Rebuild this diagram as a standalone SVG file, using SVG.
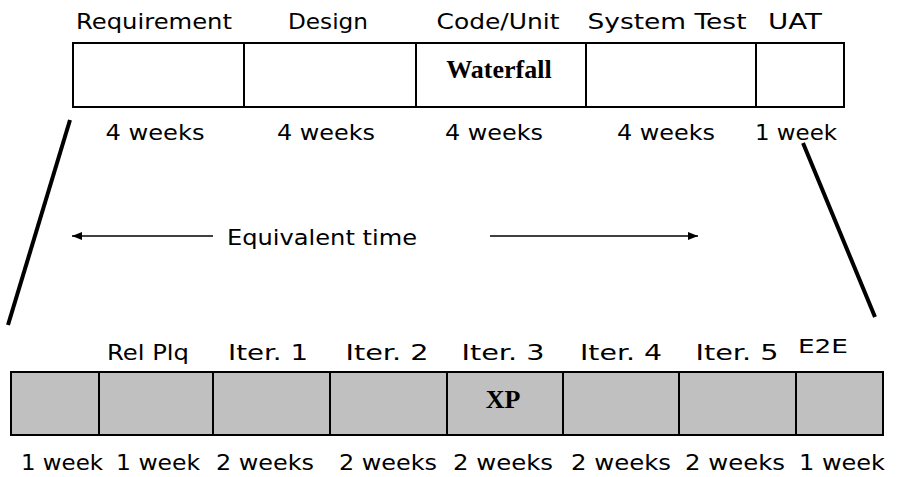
<svg xmlns="http://www.w3.org/2000/svg" width="897" height="477" viewBox="0 0 897 477">
  <defs>
    <marker id="head" viewBox="0 0 10 8" refX="10" refY="4" markerWidth="10" markerHeight="8" markerUnits="userSpaceOnUse" orient="auto">
      <path d="M0,0 L10,4 L0,8 Z" fill="#000"/>
    </marker>
    <style>
      .cell { fill: #fff; stroke: #000; stroke-width: 2; }
      .gcell { fill: #c0c0c0; stroke: #000; stroke-width: 2; }
      .lbl { font-family: "DejaVu Sans", "Liberation Sans", sans-serif; font-size: 22px; fill: #000; text-anchor: middle; }
      .small { font-size: 19px; }
      .bold { font-family: "Liberation Serif", "DejaVu Serif", serif; font-weight: bold; font-size: 26px; fill: #000; text-anchor: middle; }
      .zoom { stroke: #000; stroke-width: 4; fill: none; }
      .arrow { stroke: #000; stroke-width: 1.5; fill: none; marker-end: url(#head); }
    </style>
  </defs>
  <rect width="897" height="477" fill="#fff"/>

  <!-- Waterfall timeline -->
  <g id="waterfall">
    <g id="wf-requirement">
      <rect class="cell" x="73" y="43" width="171" height="64"/>
      <text class="lbl" x="154" y="29" textLength="156" lengthAdjust="spacingAndGlyphs">Requirement</text>
      <text class="lbl" x="155" y="140" textLength="99" lengthAdjust="spacingAndGlyphs">4 weeks</text>
    </g>
    <g id="wf-design">
      <rect class="cell" x="244" y="43" width="172" height="64"/>
      <text class="lbl" x="328" y="29" textLength="80" lengthAdjust="spacingAndGlyphs">Design</text>
      <text class="lbl" x="326" y="140" textLength="98" lengthAdjust="spacingAndGlyphs">4 weeks</text>
    </g>
    <g id="wf-code">
      <rect class="cell" x="416" y="43" width="170" height="64"/>
      <text class="lbl" x="498" y="29" textLength="123" lengthAdjust="spacingAndGlyphs">Code/Unit</text>
      <text class="bold" x="499" y="78">Waterfall</text>
      <text class="lbl" x="494" y="140" textLength="98" lengthAdjust="spacingAndGlyphs">4 weeks</text>
    </g>
    <g id="wf-systest">
      <rect class="cell" x="586" y="43" width="170" height="64"/>
      <text class="lbl" x="667" y="29" textLength="159" lengthAdjust="spacingAndGlyphs">System Test</text>
      <text class="lbl" x="666" y="140" textLength="98" lengthAdjust="spacingAndGlyphs">4 weeks</text>
    </g>
    <g id="wf-uat">
      <rect class="cell" x="756" y="43" width="88" height="64"/>
      <text class="lbl" x="795" y="29" textLength="54" lengthAdjust="spacingAndGlyphs">UAT</text>
      <text class="lbl" x="796" y="140" textLength="82" lengthAdjust="spacingAndGlyphs">1 week</text>
    </g>
  </g>

  <!-- XP timeline -->
  <g id="xp">
    <g id="xp-start">
      <rect class="gcell" x="11" y="372" width="88" height="63"/>
      <text class="lbl" x="62" y="470" textLength="82" lengthAdjust="spacingAndGlyphs">1 week</text>
    </g>
    <g id="xp-relplg">
      <rect class="gcell" x="99" y="372" width="114" height="63"/>
      <text class="lbl" x="148" y="360" textLength="82" lengthAdjust="spacingAndGlyphs">Rel Plq</text>
      <text class="lbl" x="158" y="470" textLength="84" lengthAdjust="spacingAndGlyphs">1 week</text>
    </g>
    <g id="xp-iter1">
      <rect class="gcell" x="213" y="372" width="117" height="63"/>
      <text class="lbl" x="268" y="360" textLength="80" lengthAdjust="spacingAndGlyphs">Iter. 1</text>
      <text class="lbl" x="265" y="470" textLength="98" lengthAdjust="spacingAndGlyphs">2 weeks</text>
    </g>
    <g id="xp-iter2">
      <rect class="gcell" x="330" y="372" width="117" height="63"/>
      <text class="lbl" x="387" y="360" textLength="83" lengthAdjust="spacingAndGlyphs">Iter. 2</text>
      <text class="lbl" x="388" y="470" textLength="98" lengthAdjust="spacingAndGlyphs">2 weeks</text>
    </g>
    <g id="xp-iter3">
      <rect class="gcell" x="447" y="372" width="116" height="63"/>
      <text class="lbl" x="503" y="360" textLength="83" lengthAdjust="spacingAndGlyphs">Iter. 3</text>
      <text class="bold" x="503" y="408">XP</text>
      <text class="lbl" x="503" y="470" textLength="100" lengthAdjust="spacingAndGlyphs">2 weeks</text>
    </g>
    <g id="xp-iter4">
      <rect class="gcell" x="563" y="372" width="116" height="63"/>
      <text class="lbl" x="621" y="360" textLength="82" lengthAdjust="spacingAndGlyphs">Iter. 4</text>
      <text class="lbl" x="621" y="470" textLength="100" lengthAdjust="spacingAndGlyphs">2 weeks</text>
    </g>
    <g id="xp-iter5">
      <rect class="gcell" x="679" y="372" width="117" height="63"/>
      <text class="lbl" x="737" y="360" textLength="83" lengthAdjust="spacingAndGlyphs">Iter. 5</text>
      <text class="lbl" x="735" y="470" textLength="100" lengthAdjust="spacingAndGlyphs">2 weeks</text>
    </g>
    <g id="xp-e2e">
      <rect class="gcell" x="796" y="372" width="87" height="63"/>
      <text class="lbl small" x="823" y="353" textLength="50" lengthAdjust="spacingAndGlyphs">E2E</text>
      <text class="lbl" x="842" y="470" textLength="86" lengthAdjust="spacingAndGlyphs">1 week</text>
    </g>
  </g>

  <!-- Equivalent time label -->
  <g id="equivalent">
    <text class="lbl" x="322" y="245" textLength="190" lengthAdjust="spacingAndGlyphs">Equivalent time</text>
  </g>

  <!-- Connectors -->
  <g id="connectors">
    <line class="zoom" x1="70" y1="120" x2="8" y2="325"/>
    <line class="zoom" x1="803" y1="143" x2="875" y2="317"/>
    <line class="arrow" x1="213" y1="236" x2="72" y2="236"/>
    <line class="arrow" x1="490" y1="236" x2="698" y2="236"/>
  </g>
</svg>
